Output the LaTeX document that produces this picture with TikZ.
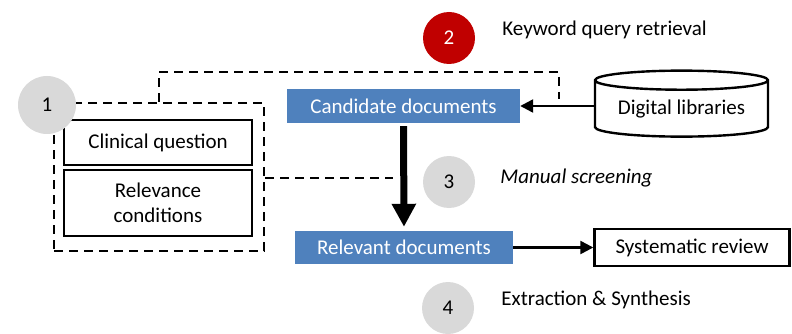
\documentclass[tikz,border=0pt]{standalone}
\usepackage{fontspec}
\setmainfont{Carlito}
\usetikzlibrary{positioning,arrows.meta,shapes.geometric}

\definecolor{docblue}{HTML}{4F81BD}
\definecolor{stepred}{HTML}{C00000}
\definecolor{stepgray}{HTML}{D9D9D9}

\tikzset{
  box/.style={draw, line width=2.4pt, inner sep=0pt, align=center},
  docbox/.style={fill=docblue, text=white, inner sep=0pt},
  stepnum/.style={circle, fill=stepgray, minimum size=52pt, inner sep=0pt},
  steplabel/.style={anchor=west, inner sep=0pt},
  dashline/.style={line width=2.4pt, dash pattern=on 9pt off 6pt},
  flow/.style={line width=2.4pt, -{Triangle[width=13pt,length=13pt]}},
}

\begin{document}
\begin{tikzpicture}[x=1pt, y=-1pt, font=\fontsize{21}{25}\selectfont]
  \useasboundingbox (0,0) rectangle (792,334);

  % query group
  \node[draw, dashline, minimum width=210pt, minimum height=148pt] (grp) at (159,177) {};
  \node[box, minimum width=188pt, minimum height=45pt] (clin) at (158,142.5) {Clinical question};
  \node[box, minimum width=188pt, minimum height=66pt] (relcond) at (158,203) {Relevance\\conditions};
  \node[stepnum, minimum size=58pt] (s1) at (47,105) {1};

  % documents
  \node[docbox, minimum width=233pt, minimum height=34pt] (cand) at (403.5,106) {Candidate documents};
  \node[docbox, minimum width=218pt, minimum height=33pt] (rel) at (404,247.5) {Relevant documents};
  \node[box, minimum width=195pt, minimum height=37pt] (sysrev) at (692,247.5) {Systematic review};
  \node[draw, line width=2.4pt, cylinder, shape border rotate=90, aspect=0.15,
        minimum width=173pt, minimum height=66pt, inner sep=0pt] (diglib) at (681.5,109) {Digital libraries};

  % steps
  \node[stepnum, fill=stepred, text=white] (s2) at (449,38) {2};
  \node[stepnum] (s3) at (449,182) {3};
  \node[stepnum] (s4) at (448,308) {4};
  \node[steplabel, right=27pt of s2, yshift=8pt] (l2) {Keyword query retrieval};
  \node[steplabel, right=25pt of s3, yshift=4pt] (l3) {\itshape Manual screening};
  \node[steplabel, right=27pt of s4, yshift=8pt] (l4) {Extraction \& Synthesis};

  \coordinate (kw) at (559,99);
  \coordinate (scr) at (393,178);

  \draw[dashline] (grp.north) -- ++(0,-30) -| (kw);
  \draw[dashline] (grp.east |- scr) -- (scr);
  \draw[flow] (diglib.west |- cand) -- (cand.east);
  \draw[line width=7pt, -{Triangle[width=23pt,length=23pt]}, shorten <=3pt, shorten >=4pt] (cand.south) -- (rel.north);
  \draw[flow] (rel.east) -- (sysrev.west);
\end{tikzpicture}
\end{document}
